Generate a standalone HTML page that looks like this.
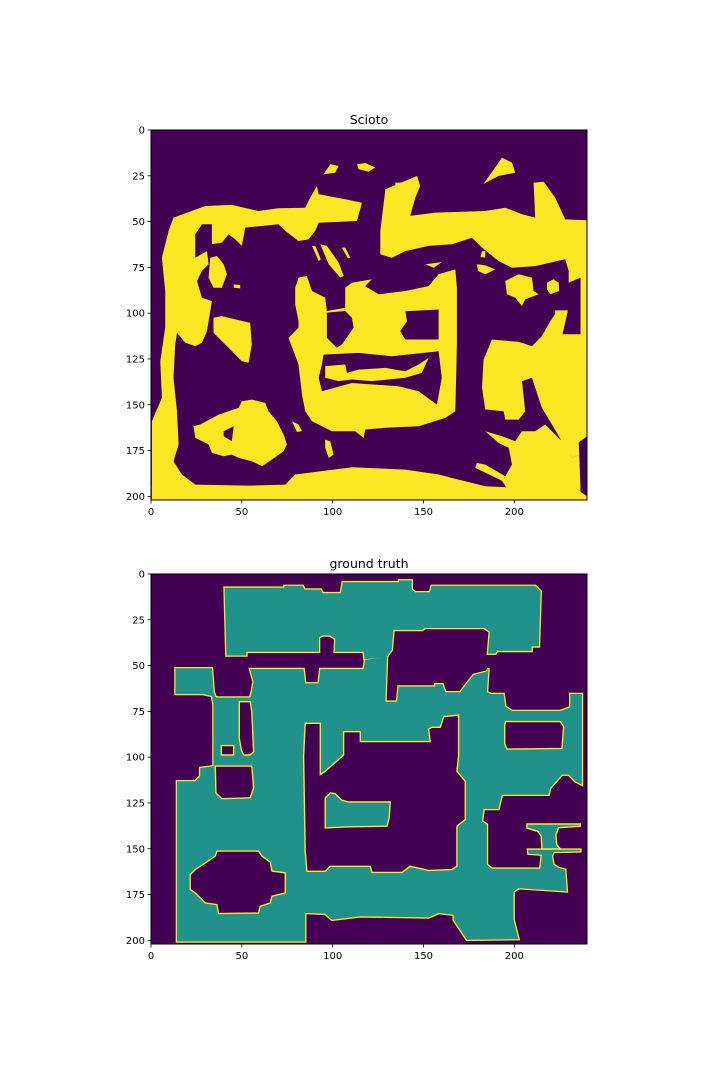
<!DOCTYPE html>
<html><head><meta charset="utf-8"><style>
html,body{margin:0;padding:0;background:#fff;}
svg{display:block;font-family:"DejaVu Sans","Liberation Sans",sans-serif;}
</style></head><body>
<svg id="fig" width="720" height="1080" viewBox="0 0 720 1080" xmlns="http://www.w3.org/2000/svg">
<defs>
<clipPath id="clipTop"><rect x="151" y="130" width="436" height="370"/></clipPath>
<clipPath id="clipBot"><rect x="151" y="574" width="436" height="370"/></clipPath>
</defs>
<g id="topPanel"></g>
<g id="botPanel"></g>
</svg>
<script>
// ---- data (image coordinates in data units: column, row) ----
const xTicks = [0, 50, 100, 150, 200];
const yTicks = [0, 25, 50, 75, 100, 125, 150, 175, 200];
const nCols = 240;
const nRows = 202;

// Scioto prediction: yellow regions
const sciotoYellow = [
 [[11.9,47.3],[29.4,41],[44,40.4],[58.7,43.7],[69.7,42.2],[84.4,41.9],[86.2,38.2],[90.8,30],[91.8,34.6],[106.4,37.3],[115.6,39.2],[112.9,49.2],[91.8,50.1],[89.9,54.6],[86.2,59.2],[80.7,60.1],[73.4,54.6],[69.7,51],[60.6,51.9],[51.4,52.8],[49.5,62.8],[45.9,59.2],[42.2,56.5],[38.5,61],[33,61.9],[33,51],[27.5,51],[23.9,56.5],[23.9,69.2],[30.3,65.6],[31.2,72.8],[27.5,76.5],[24.8,81.9],[27.5,91],[33,92.9],[32.1,98.4],[30.3,109.3],[27.5,115.7],[23.9,117.5],[18.4,115.7],[13.8,110.2],[12.8,116.6],[11.9,134.8],[13.8,153],[14.7,171.2],[11.9,180.3],[16.5,187.6],[23.9,193.1],[73.4,194],[77.1,197.6],[73.4,202.2],[0,202.2],[0,158.5],[5.5,145.7],[4.6,125.7],[7.3,107.5],[7.3,87.4],[5.5,69.2],[9.2,54.6]],
 [[128.5,31.9],[139.5,27.3],[145.9,24.6],[147.7,30],[145,36.4],[142.2,46.4],[156,44.6],[183.5,43.7],[194.5,41.9],[203.7,45.5],[211,47.3],[210.1,28.2],[215.6,27.7],[222,36.4],[227.5,48.3],[240.4,48.8],[240.4,103.8],[229.4,103.8],[229.4,76.5],[227.5,70.1],[211,73.8],[198.2,74.7],[190.8,71],[181.7,63.7],[176.2,58.3],[165.2,61.9],[152.3,62.8],[139.5,65.6],[132.1,69.2],[125.7,67.4],[125.7,54.6]],
 [[78.9,85.6],[80.7,80.1],[85.3,79.2],[88.1,87.4],[95.4,91],[96.3,98.3],[106.4,96.5],[106.4,85.6],[110.1,82.9],[121.1,81],[117.4,84.7],[124.8,89.2],[139.5,87.4],[152.3,84.7],[157.8,78.3],[167,75.6],[167.9,85.6],[167.9,116.6],[167,153],[161.5,156.7],[146.8,161.2],[128.5,162.1],[117.4,163],[116.5,167.6],[111.9,164],[99.1,164],[88.1,158.5],[84.4,153],[82.6,143.9],[80.7,127.5],[75.2,113],[80.7,107.5],[80.7,103.8],[78.9,94.7]],
 [[0,194],[11,194.9],[73.4,193.1],[78.9,187.6],[110.1,183.6],[139.5,184.9],[157.8,187.6],[165.2,189.5],[183.5,194],[201.9,194.9],[236.7,197.6],[240.4,202.2],[0,202.2]],
 [[182.6,124.8],[187.2,113.9],[201.9,115.2],[209.2,117.5],[214.7,112],[219.3,103.9],[223,98.4],[227.5,98.4],[227.5,111.1],[235.8,111.1],[235.8,98.4],[240.4,98.4],[240.4,174.9],[231.2,178.5],[225.7,169.4],[220.2,160.3],[214.7,151.2],[211,140.3],[209.2,134.8],[203.7,136.6],[205.5,153],[201.9,157.6],[194.5,157.6],[193.6,153],[183.5,152.1],[181.7,140.3]],
 [[222,98],[240.4,98],[240.4,177],[228,177],[222,160]],
 [[183.5,164],[192.7,166.7],[200,169.4],[203.7,164],[211,164],[216.5,160.3],[225.7,169.4],[231.2,178.5],[240.4,174.9],[240.4,202.2],[200,202.2],[192.7,191],[178,184],[178.9,181.3],[183.5,182.2],[194.5,188.5],[198.2,182.2],[196.4,173],[190.8,170.3]],
 [[49.5,147.6],[55,146.7],[62.4,148.5],[64.2,153],[68.8,158.5],[72.5,165.8],[74.3,171.2],[72.5,174.9],[66.1,179.4],[60.6,183.1],[55,180.3],[47.7,178.5],[44,176.7],[39.5,177.6],[33,175.8],[31.2,171.2],[23.9,167.6],[22.9,161.2],[26.6,160.3],[36.7,154.9],[47.7,151.2]],
 [[33.9,102],[38.5,101.1],[54.1,104.8],[55,116.6],[53.2,126.6],[49.5,125.7],[42.2,118.4],[33.9,110.2]],
 [[32.1,69.2],[35.8,68.3],[39.5,72.8],[41.3,78.3],[38.5,85.6],[33.9,85.6],[31.2,80.1]],
 [[45,83.8],[48.6,84.1],[48.6,86],[45,85.6]],
 [[94.5,23.7],[98.2,18.2],[102.8,19.1],[100.9,22.8]],
 [[112.9,18.2],[117.4,17.5],[122.9,20],[119.3,22.2],[113.8,20.9]],
 [[182.6,28.8],[192.7,14.6],[198.2,17.3],[200,22.8],[190.8,24.6]],
 [[134,28.2],[137.6,28.2],[136.7,30],[134,29.5]],
 [[88.1,62.8],[89.9,62.8],[93,70.1],[91.8,71]],
 [[92.7,61.9],[96.3,62.8],[102.8,71.9],[105.5,79.2],[103.7,80.1],[97.3,72.8]],
 [[104.6,63.7],[106.4,63.7],[109.2,69.2],[107.9,69.6]],
 [[150.5,72.8],[159.6,71.6],[155.1,74.7]],
 [[178.9,72.8],[183.5,73.4],[189,75.6],[183.5,78.3],[179.5,76.5]],
 [[194.5,81.9],[201.9,78.3],[209.2,80.1],[210.1,87.4],[212.9,89.2],[205.5,92],[203.7,95.6],[200,91],[195.4,89.2]],
 [[217.5,82.9],[221.1,81],[223.9,82.9],[224.2,87.4],[219.3,89.2],[217.5,86.5]],
 [[181.7,65.6],[183.5,65.6],[183.5,69.2],[180.8,68.8]],
 [[77.1,158.5],[80.7,160.3],[82.6,164],[79.8,164.3]],
 [[95.4,168.5],[98.2,169.4],[100,176.7],[97.3,178.5],[95.4,173]]
];
const sciotoHoles = [
 [[96.3,99.2],[106.4,98.3],[110.1,102],[111,107.5],[104.6,116.6],[101.8,118.4],[96.3,113]],
 [[139.5,98.4],[157.8,97.5],[157.8,113.9],[139.5,113.9],[136.7,109.3],[140.4,103.9]],
 [[94.5,122.1],[113.8,121.2],[132.1,123],[157.8,120.3],[159.6,134.8],[156.9,149.4],[146.8,142.1],[135.8,139.4],[110.1,137.6],[93.6,142.1],[91.8,134.8],[93.6,127.5]],
 [[39.5,164],[45,161.2],[44,169.4],[39.5,166.7]],
 [[227,84],[236,80],[236,111],[226,111],[229,98]],
 [[235,170],[240.4,166],[240.4,200],[236,197]]
];
const sciotoInner = [
 [[95.4,128.4],[106.4,127.5],[107.4,132.1],[113.8,130.3],[128.5,129.4],[139.5,131.2],[146.8,127.5],[152.3,123.9],[148.6,132.1],[139.5,134.8],[121.1,136.6],[110.1,135.7],[102.8,136.6],[95.4,134.8]],
 [[236,72],[240.4,72],[240.4,166],[236,168]]
];

// Ground truth: teal regions, holes, and inner teal islands
const gtTeal = [
 [[40,7],[73,7],[73,6],[83,6],[84,8],[93,8],[94,10],[104,10],[105,4],[136,4],[136,3],[143,3],[143,8],[145,9.5],[153,9.5],[154,6],[211,6],[214,9],[213,39],[209,39],[209,41.5],[190,41.5],[189,43],[185,43],[186,31],[183,29],[150,29],[149,30],[133,30],[132,41],[129,45],[117,46],[116.5,42],[100.6,42],[101,35],[98,33],[94,33],[92,34],[92,42],[52,42],[52,44],[41,44]],
 [[13,51],[33,51],[34,64],[35,66.5],[28,65],[13,65]],
 [[54,51.4],[83.5,51.4],[84.4,59.2],[91.7,59.2],[92.7,51.4],[116.5,51.4],[117.4,46.4],[129.4,44.6],[128.5,69.2],[134.9,69.2],[135.8,61],[156,61],[156,59.7],[160,59.7],[161.5,64.1],[169.7,64.1],[177.1,54.6],[184.4,52.8],[185.3,51],[184.4,64.1],[186.8,65],[193.6,65],[194.5,71.9],[198.2,74.3],[224.8,74.3],[230.3,72.3],[230.3,65],[236.7,65],[236.7,114.5],[233,112.7],[229.4,109],[225.7,109],[219.3,116.3],[218.3,120],[192.7,120],[191.7,123.6],[190.8,127.8],[182.6,127.8],[181.7,134.5],[184.4,136.3],[184.4,158.2],[187.2,160.4],[213.8,160.4],[214.7,152.7],[207.3,152.2],[207,150],[235.8,150],[235.8,150.9],[221.1,151.3],[220.2,153.6],[221.1,158.2],[223.9,160],[227.5,160.9],[228.4,172.8],[201.8,171],[199.1,172.8],[199.1,188.3],[201.8,198.8],[173.4,199.2],[166.1,188.3],[166.1,185.5],[157.8,184.6],[152.3,187],[114.7,186.4],[99.1,188.3],[95.4,185],[84.4,184.6],[84.4,200.1],[13.8,200.1],[13.8,112.7],[23.9,112.7],[26.6,109.9],[26.6,105.4],[33.9,104.5],[33.9,71],[33,65.6],[35.8,67],[54.1,67],[55,63.7],[56,58.3]]
];
const gtHoles = [
 [[48.1,69.2],[54.1,69.2],[55,74.7],[56,96.5],[54.1,98.3],[50.5,98.3],[49.2,95.6],[48.1,89.2]],
 [[38.2,93.2],[45,93.2],[45,98.3],[38.2,98.3]],
 [[84.4,81],[92.7,81],[92.7,109],[95.4,107.2],[105.5,98.3],[105.5,85.6],[114.7,85.6],[114.7,91],[153.2,91],[152.3,84.1],[154.1,83.2],[158.7,83.2],[160.6,77.4],[168.8,76.5],[168.8,98.9],[167.9,107.2],[172.5,112.7],[172.5,133.6],[167.9,137.2],[167.9,159.1],[165.1,160.9],[152.3,161.3],[142.2,159.1],[137.6,162.4],[121.1,162.4],[120.2,159.1],[98.2,159.1],[95.4,161.8],[85.3,161.8],[84.4,150.8],[83.5,98.9]],
 [[194.5,80.1],[224.8,80.1],[226.6,82.9],[225.7,94.7],[195.4,95.1],[194.2,92],[194.2,82]],
 [[34.9,104.4],[55,104.4],[56,116.2],[54.1,121.7],[38.5,122.2],[35.2,119]],
 [[35.8,150.8],[58.7,150.8],[60.6,153.5],[65.1,156.8],[66.1,161.7],[73.4,162.7],[73.4,173.6],[66.1,175.4],[65.1,179.1],[59.6,180.9],[58.7,184.6],[36.7,184.9],[35.8,180],[29.4,179.1],[23.9,173.6],[21.1,171.8],[21.1,163.6],[23.9,160.8],[29.4,157.2],[34.9,153.5]]
];
const gtIslands = [
 [[95.4,121.8],[98.2,119],[100.9,119.4],[104.6,123],[108.3,124],[131.2,124],[130.6,132.6],[129.4,137.2],[108.3,137.5],[95.4,138.1]],
 [[206.4,136],[235.8,136],[235.8,137.2],[223.9,138],[222.4,141.8],[222.9,147.3],[224.8,149.6],[214.7,149.6],[214.3,142.7],[212.5,140],[206.4,138.2]]
];

// ---- colours ----
const PURPLE = "#440154", YELLOW = "#fde725", TEAL = "#21918c";
const NS = "http://www.w3.org/2000/svg";
const AX_L = 151, AX_W = 436, AX_H = 370;

function mk(tag, attrs, parent) {
  const e = document.createElementNS(NS, tag);
  for (const k in attrs) e.setAttribute(k, attrs[k]);
  parent.appendChild(e);
  return e;
}
function xScale(d) { return AX_L + (d + 0.5) * AX_W / nCols; }
function yScaleFor(top) { return d => top + (d + 0.5) * AX_H / nRows; }
function ptsStr(poly, ys) { return poly.map(p => xScale(p[0]).toFixed(1) + "," + ys(p[1]).toFixed(1)).join(" "); }

function drawAxes(g, top, title) {
  const ys = yScaleFor(top);
  const t = mk("text", {x: AX_L + AX_W / 2, y: top - 6, "text-anchor": "middle", "font-size": "12.5", fill: "#000"}, g);
  t.textContent = title;
  
  
  const frame = mk("rect", {x: AX_L, y: top, width: AX_W, height: AX_H, fill: "none", stroke: "#000", "stroke-width": "1"}, g);
  
  
  xTicks.forEach(v => {
    const xx = AX_L + (v + 0.5) * AX_W / nCols - AX_W / nCols * 0.5;
    const tk = mk("line", {x1: xx, x2: xx, y1: top + AX_H, y2: top + AX_H + 3.5, stroke: "#000", "stroke-width": "0.8"}, g);
    
    
    const lb = mk("text", {x: xx, y: top + AX_H + 15, "text-anchor": "middle", "font-size": "10", fill: "#000"}, g);
    lb.textContent = v;
    
    
  });
  yTicks.forEach(v => {
    const yy = ys(v) - AX_H / nRows * 0.5;
    const tk = mk("line", {x1: AX_L - 3.5, x2: AX_L, y1: yy, y2: yy, stroke: "#000", "stroke-width": "0.8"}, g);
    
    
    const lb = mk("text", {x: AX_L - 6, y: yy + 3.5, "text-anchor": "end", "font-size": "10", fill: "#000"}, g);
    lb.textContent = v;
    
    
  });
}

// ---- top panel ----
(function(){
  const g = document.getElementById("topPanel");
  const top = 130, ys = yScaleFor(top);
  const img = mk("g", {"clip-path": "url(#clipTop)"}, g);
  
  
  const bg = mk("rect", {x: AX_L, y: top, width: AX_W, height: AX_H, fill: PURPLE}, img);
  
  
  sciotoYellow.forEach(p => {
    const e = mk("polygon", {points: ptsStr(p, ys), fill: YELLOW, stroke: "none"}, img);
    
    
  });
  sciotoHoles.forEach(p => {
    const e = mk("polygon", {points: ptsStr(p, ys), fill: PURPLE, stroke: "none"}, img);
    
    
  });
  sciotoInner.forEach(p => {
    const e = mk("polygon", {points: ptsStr(p, ys), fill: YELLOW, stroke: "none"}, img);
    
    
  });
  drawAxes(g, top, "Scioto");
})();

// ---- bottom panel ----
(function(){
  const g = document.getElementById("botPanel");
  const top = 574, ys = yScaleFor(top);
  const img = mk("g", {"clip-path": "url(#clipBot)"}, g);
  
  
  const bg = mk("rect", {x: AX_L, y: top, width: AX_W, height: AX_H, fill: PURPLE}, img);
  
  
  gtTeal.forEach(p => {
    const e = mk("polygon", {points: ptsStr(p, ys), fill: "none", stroke: YELLOW, "stroke-width": "2.6", "stroke-linejoin": "miter"}, img);
    
    
  });
  gtTeal.forEach(p => {
    const e = mk("polygon", {points: ptsStr(p, ys), fill: TEAL, stroke: "none"}, img);
    
    
  });
  gtHoles.forEach(p => {
    const e = mk("polygon", {points: ptsStr(p, ys), fill: PURPLE, stroke: YELLOW, "stroke-width": "1.4"}, img);
    
    
  });
  gtIslands.forEach(p => {
    const e = mk("polygon", {points: ptsStr(p, ys), fill: TEAL, stroke: YELLOW, "stroke-width": "1.4"}, img);
    
    
  });
  drawAxes(g, top, "ground truth");
})();
</script>
</body></html>
